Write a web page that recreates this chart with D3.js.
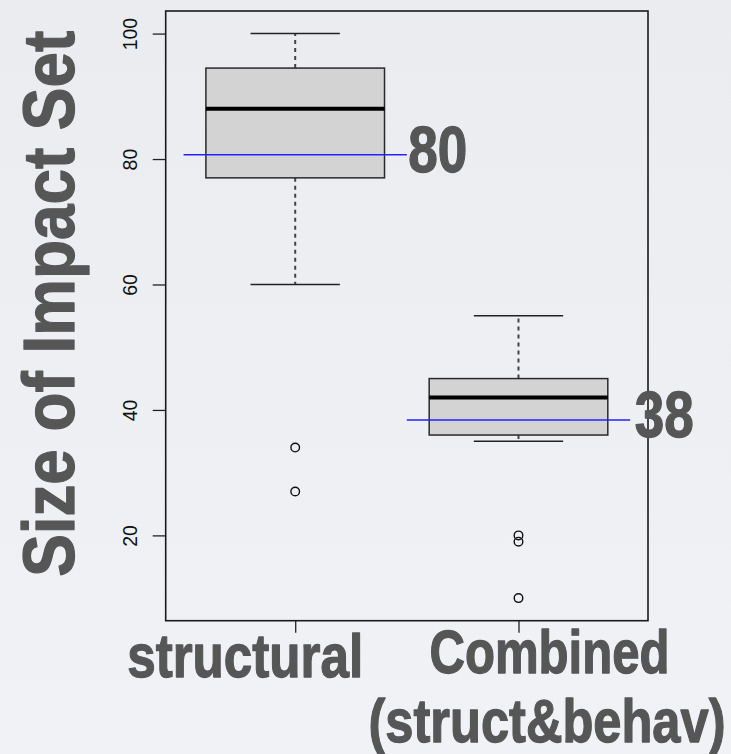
<!DOCTYPE html>
<html>
<head>
<meta charset="utf-8">
<script src="https://cdn.jsdelivr.net/npm/d3@7"></script>
<style>
  body { margin: 0; }
  svg { display: block; }
</style>
</head>
<body>
<svg id="chart" width="731" height="754"></svg>
<script>
// values
var categories = ['structural', 'Combined'];
var categoryLines = [['structural'], ['Combined', '(struct&behav)']];
var whiskerLow = [60, 35];
var q1 = [77, 36];
var medians = [88, 42];
var q3 = [94.5, 45];
var whiskerHigh = [100, 55];
var outliers = [[34, 27], [20, 19, 10]];
var means = [80.7, 38.4];
var meanLabels = ['80', '38'];
var yTicks = [20, 40, 60, 80, 100];

var svg = d3.select('#chart');
var width = +svg.attr('width');
var height = +svg.attr('height');

var margins = {
  top: 11,
  bottom: 133.3,
  left: 165.7,
  right: 83
};

var textColor = '#565656';

// background
var grad = svg.append('defs')
  .append('linearGradient')
  .attr('id', 'bg')
  .attr('x1', '0%').attr('y1', '0%')
  .attr('x2', '0%').attr('y2', '100%');
grad.append('stop').attr('offset', '0%').attr('stop-color', '#eaecef');
grad.append('stop').attr('offset', '100%').attr('stop-color', '#f1f2f5');

svg.append('rect')
  .attr('width', width)
  .attr('height', height)
  .style('fill', 'url(#bg)');

// R style ranges: boxes at 1..n, xlim 0.5..n+0.5 plus 4% padding
var x = d3.scaleLinear()
  .domain([0.42, 2.58])
  .range([margins.left, width - margins.right]);

var y = d3.scaleLinear()
  .domain([6.4, 103.6])
  .range([height - margins.bottom, margins.top]);

var unit = x(2) - x(1);
var boxW = 0.8 * unit;
var capW = 0.4 * unit;

// axes
var yAxis = svg.append('g')
  .attr('transform', 'translate(' + margins.left + ',0)')
  .call(d3.axisLeft(y).tickValues(yTicks).tickSize(13).tickPadding(0));
yAxis.select('.domain').remove();
yAxis.selectAll('line').attr('stroke', '#222').attr('stroke-width', 1.3);
yAxis.selectAll('text')
  .attr('x', null).attr('dy', null)
  .attr('text-anchor', 'middle')
  .attr('transform', 'translate(-28.5,0) rotate(-90)')
  .attr('font-family', 'Liberation Sans, Arial, sans-serif')
  .attr('font-size', '19.5px')
  .attr('fill', '#111');

var xAxis = svg.append('g')
  .attr('transform', 'translate(0,' + (height - margins.bottom) + ')')
  .call(d3.axisBottom(x).tickValues([1, 2]).tickSize(12).tickFormat(''));
xAxis.select('.domain').remove();
xAxis.selectAll('line').attr('stroke', '#222').attr('stroke-width', 1.3);

// frame
svg.append('rect')
  .attr('x', margins.left)
  .attr('y', margins.top)
  .attr('width', width - margins.left - margins.right)
  .attr('height', height - margins.top - margins.bottom)
  .style('fill', 'none')
  .style('stroke', '#1a1a1a')
  .style('stroke-width', 1.6);

// boxes
var boxes = svg.selectAll('.box')
  .data(categories)
  .enter()
  .append('g')
  .attr('class', 'box');

boxes.each(function(d, i) {
  var g = d3.select(this);
  var cx = x(i + 1);

  // whiskers
  [[q3[i], whiskerHigh[i]], [q1[i], whiskerLow[i]]].forEach(function(w) {
    g.append('line')
      .attr('x1', cx).attr('x2', cx)
      .attr('y1', y(w[0])).attr('y2', y(w[1]))
      .style('stroke', '#444')
      .style('stroke-width', 2)
      .style('stroke-dasharray', '4,4');
    g.append('line')
      .attr('x1', cx - capW / 2).attr('x2', cx + capW / 2)
      .attr('y1', y(w[1])).attr('y2', y(w[1]))
      .style('stroke', '#222')
      .style('stroke-width', 1.5);
  });

  g.append('rect')
    .attr('x', cx - boxW / 2)
    .attr('y', y(q3[i]))
    .attr('width', boxW)
    .attr('height', y(q1[i]) - y(q3[i]))
    .style('fill', '#d3d3d3')
    .style('stroke', '#2a2a2a')
    .style('stroke-width', 1.5);

  g.append('line')
    .attr('x1', cx - boxW / 2).attr('x2', cx + boxW / 2)
    .attr('y1', y(medians[i])).attr('y2', y(medians[i]))
    .style('stroke', '#000')
    .style('stroke-width', 4);

  g.selectAll('circle')
    .data(outliers[i])
    .enter()
    .append('circle')
    .attr('cx', cx)
    .attr('cy', function(v) { return y(v); })
    .attr('r', 4.3)
    .style('fill', 'none')
    .style('stroke', '#111')
    .style('stroke-width', 1.4);

  // mean line
  g.append('line')
    .attr('x1', cx - unit / 2).attr('x2', cx + unit / 2)
    .attr('y1', y(means[i])).attr('y2', y(means[i]))
    .style('stroke', '#2222ff')
    .style('stroke-width', 1.5);
});

// big labels
var bigFont = 'Liberation Sans, Arial, Helvetica, sans-serif';

function heavy(sel) {
  sel.attr('font-family', bigFont)
    .attr('font-weight', 'bold')
    .attr('lengthAdjust', 'spacingAndGlyphs')
    .attr('fill', textColor)
    .attr('stroke', textColor)
    .attr('stroke-width', 1.3)
    .attr('stroke-linejoin', 'round');
}

svg.selectAll('.meanlabel')
  .data(meanLabels)
  .enter()
  .append('text')
  .attr('class', 'meanlabel')
  .attr('x', function(d, i) { return x(i + 1) + unit / 2 + 1.5 + i * 3; })
  .attr('y', function(d, i) { return y(means[i]) + 17.5; })
  .attr('font-size', '64px')
  .attr('textLength', 59)
  .call(heavy)
  .text(function(d) { return d; });

var catPos = [
  [{dx: -168, dy: 56, len: 236}],
  [{dx: -89, dy: 52, len: 240}, {dx: -150, dy: 121, len: 357}]
];

categoryLines.forEach(function(lines, i) {
  lines.forEach(function(t, j) {
    svg.append('text')
      .attr('x', x(i + 1) + catPos[i][j].dx)
      .attr('y', height - margins.bottom + catPos[i][j].dy)
      .attr('font-size', '62px')
      .attr('textLength', catPos[i][j].len)
      .call(heavy)
      .text(t);
  });
});

// y title
svg.append('text')
  .attr('transform', 'translate(74,' + ((margins.top + height - margins.bottom) / 2 - 12) + ') rotate(-90)')
  .attr('text-anchor', 'middle')
  .attr('font-size', '72px')
  .attr('textLength', 546)
  .call(heavy)
  .text('Size of Impact Set');
</script>
</body>
</html>
